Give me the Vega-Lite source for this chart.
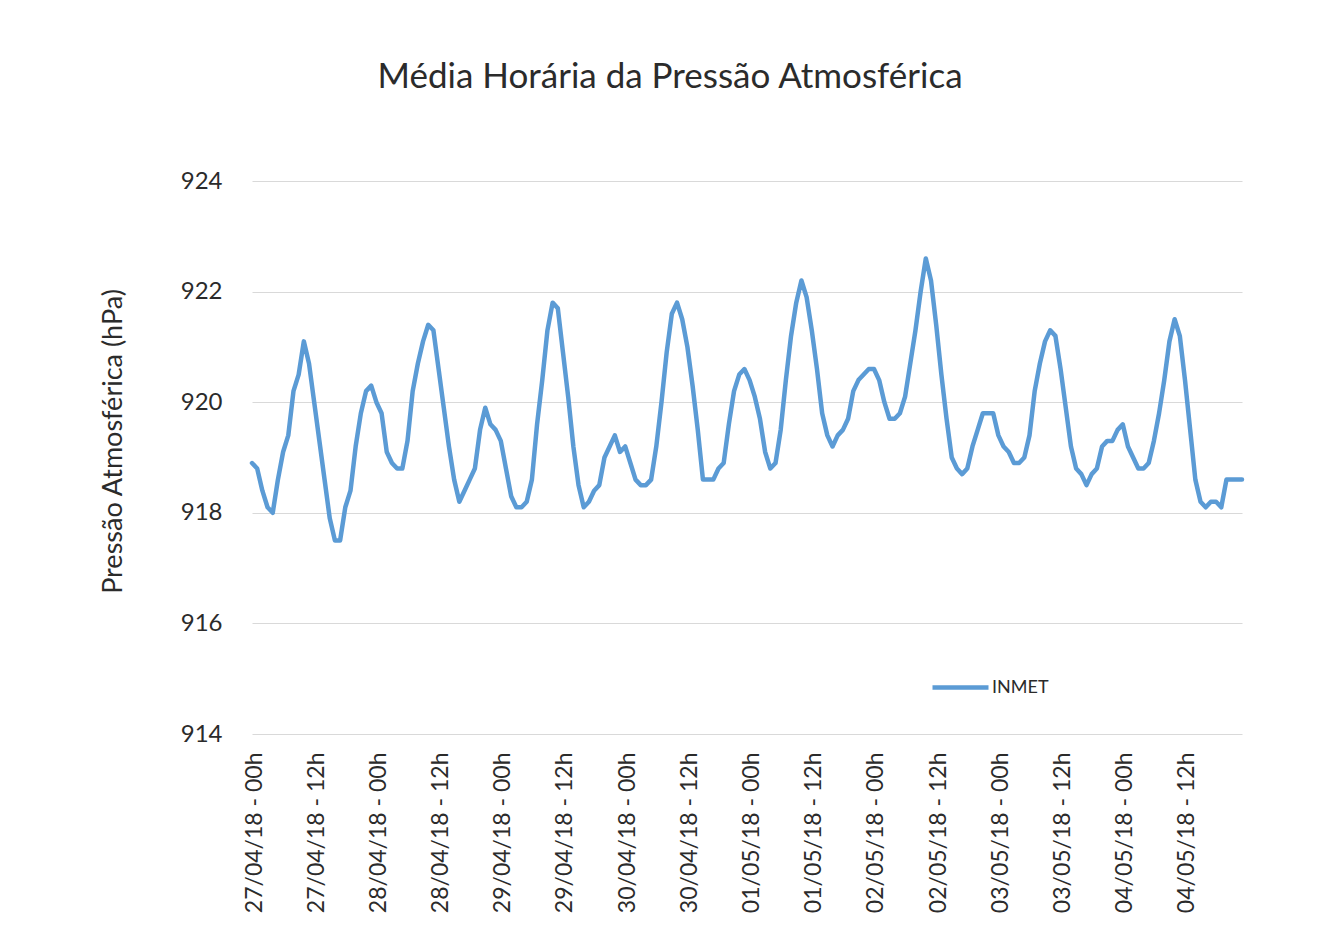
{
  "$schema": "https://vega.github.io/schema/vega-lite/v6.json",
  "width": 990,
  "height": 553,
  "autosize": {"type": "none"},
  "padding": {"left": 252, "top": 181, "right": 94, "bottom": 212},
  "background": "white",
  "title": {
    "text": "Média Horária da Pressão Atmosférica",
    "font": "Lato",
    "fontSize": 35,
    "fontWeight": "normal",
    "color": "#2b2b2b",
    "offset": 74,
    "anchor": "middle",
    "dx": -77
  },
  "data": {
    "format": {"parse": {"t": "date:'%Y-%m-%d %H:%M'"}},
    "values": [
      {"t": "2018-04-27 00:00", "p": 918.9}, {"t": "2018-04-27 01:00", "p": 918.8}, {"t": "2018-04-27 02:00", "p": 918.4}, {"t": "2018-04-27 03:00", "p": 918.1},
      {"t": "2018-04-27 04:00", "p": 918.0}, {"t": "2018-04-27 05:00", "p": 918.6}, {"t": "2018-04-27 06:00", "p": 919.1}, {"t": "2018-04-27 07:00", "p": 919.4},
      {"t": "2018-04-27 08:00", "p": 920.2}, {"t": "2018-04-27 09:00", "p": 920.5}, {"t": "2018-04-27 10:00", "p": 921.1}, {"t": "2018-04-27 11:00", "p": 920.7},
      {"t": "2018-04-27 12:00", "p": 920.0}, {"t": "2018-04-27 13:00", "p": 919.3}, {"t": "2018-04-27 14:00", "p": 918.6}, {"t": "2018-04-27 15:00", "p": 917.9},
      {"t": "2018-04-27 16:00", "p": 917.5}, {"t": "2018-04-27 17:00", "p": 917.5}, {"t": "2018-04-27 18:00", "p": 918.1}, {"t": "2018-04-27 19:00", "p": 918.4},
      {"t": "2018-04-27 20:00", "p": 919.2}, {"t": "2018-04-27 21:00", "p": 919.8}, {"t": "2018-04-27 22:00", "p": 920.2}, {"t": "2018-04-27 23:00", "p": 920.3},
      {"t": "2018-04-28 00:00", "p": 920.0}, {"t": "2018-04-28 01:00", "p": 919.8}, {"t": "2018-04-28 02:00", "p": 919.1}, {"t": "2018-04-28 03:00", "p": 918.9},
      {"t": "2018-04-28 04:00", "p": 918.8}, {"t": "2018-04-28 05:00", "p": 918.8}, {"t": "2018-04-28 06:00", "p": 919.3}, {"t": "2018-04-28 07:00", "p": 920.2},
      {"t": "2018-04-28 08:00", "p": 920.7}, {"t": "2018-04-28 09:00", "p": 921.1}, {"t": "2018-04-28 10:00", "p": 921.4}, {"t": "2018-04-28 11:00", "p": 921.3},
      {"t": "2018-04-28 12:00", "p": 920.6}, {"t": "2018-04-28 13:00", "p": 919.9}, {"t": "2018-04-28 14:00", "p": 919.2}, {"t": "2018-04-28 15:00", "p": 918.6},
      {"t": "2018-04-28 16:00", "p": 918.2}, {"t": "2018-04-28 17:00", "p": 918.4}, {"t": "2018-04-28 18:00", "p": 918.6}, {"t": "2018-04-28 19:00", "p": 918.8},
      {"t": "2018-04-28 20:00", "p": 919.5}, {"t": "2018-04-28 21:00", "p": 919.9}, {"t": "2018-04-28 22:00", "p": 919.6}, {"t": "2018-04-28 23:00", "p": 919.5},
      {"t": "2018-04-29 00:00", "p": 919.3}, {"t": "2018-04-29 01:00", "p": 918.8}, {"t": "2018-04-29 02:00", "p": 918.3}, {"t": "2018-04-29 03:00", "p": 918.1},
      {"t": "2018-04-29 04:00", "p": 918.1}, {"t": "2018-04-29 05:00", "p": 918.2}, {"t": "2018-04-29 06:00", "p": 918.6}, {"t": "2018-04-29 07:00", "p": 919.6},
      {"t": "2018-04-29 08:00", "p": 920.4}, {"t": "2018-04-29 09:00", "p": 921.3}, {"t": "2018-04-29 10:00", "p": 921.8}, {"t": "2018-04-29 11:00", "p": 921.7},
      {"t": "2018-04-29 12:00", "p": 920.9}, {"t": "2018-04-29 13:00", "p": 920.1}, {"t": "2018-04-29 14:00", "p": 919.2}, {"t": "2018-04-29 15:00", "p": 918.5},
      {"t": "2018-04-29 16:00", "p": 918.1}, {"t": "2018-04-29 17:00", "p": 918.2}, {"t": "2018-04-29 18:00", "p": 918.4}, {"t": "2018-04-29 19:00", "p": 918.5},
      {"t": "2018-04-29 20:00", "p": 919.0}, {"t": "2018-04-29 21:00", "p": 919.2}, {"t": "2018-04-29 22:00", "p": 919.4}, {"t": "2018-04-29 23:00", "p": 919.1},
      {"t": "2018-04-30 00:00", "p": 919.2}, {"t": "2018-04-30 01:00", "p": 918.9}, {"t": "2018-04-30 02:00", "p": 918.6}, {"t": "2018-04-30 03:00", "p": 918.5},
      {"t": "2018-04-30 04:00", "p": 918.5}, {"t": "2018-04-30 05:00", "p": 918.6}, {"t": "2018-04-30 06:00", "p": 919.2}, {"t": "2018-04-30 07:00", "p": 920.0},
      {"t": "2018-04-30 08:00", "p": 920.9}, {"t": "2018-04-30 09:00", "p": 921.6}, {"t": "2018-04-30 10:00", "p": 921.8}, {"t": "2018-04-30 11:00", "p": 921.5},
      {"t": "2018-04-30 12:00", "p": 921.0}, {"t": "2018-04-30 13:00", "p": 920.3}, {"t": "2018-04-30 14:00", "p": 919.5}, {"t": "2018-04-30 15:00", "p": 918.6},
      {"t": "2018-04-30 16:00", "p": 918.6}, {"t": "2018-04-30 17:00", "p": 918.6}, {"t": "2018-04-30 18:00", "p": 918.8}, {"t": "2018-04-30 19:00", "p": 918.9},
      {"t": "2018-04-30 20:00", "p": 919.6}, {"t": "2018-04-30 21:00", "p": 920.2}, {"t": "2018-04-30 22:00", "p": 920.5}, {"t": "2018-04-30 23:00", "p": 920.6},
      {"t": "2018-05-01 00:00", "p": 920.4}, {"t": "2018-05-01 01:00", "p": 920.1}, {"t": "2018-05-01 02:00", "p": 919.7}, {"t": "2018-05-01 03:00", "p": 919.1},
      {"t": "2018-05-01 04:00", "p": 918.8}, {"t": "2018-05-01 05:00", "p": 918.9}, {"t": "2018-05-01 06:00", "p": 919.5}, {"t": "2018-05-01 07:00", "p": 920.4},
      {"t": "2018-05-01 08:00", "p": 921.2}, {"t": "2018-05-01 09:00", "p": 921.8}, {"t": "2018-05-01 10:00", "p": 922.2}, {"t": "2018-05-01 11:00", "p": 921.9},
      {"t": "2018-05-01 12:00", "p": 921.3}, {"t": "2018-05-01 13:00", "p": 920.6}, {"t": "2018-05-01 14:00", "p": 919.8}, {"t": "2018-05-01 15:00", "p": 919.4},
      {"t": "2018-05-01 16:00", "p": 919.2}, {"t": "2018-05-01 17:00", "p": 919.4}, {"t": "2018-05-01 18:00", "p": 919.5}, {"t": "2018-05-01 19:00", "p": 919.7},
      {"t": "2018-05-01 20:00", "p": 920.2}, {"t": "2018-05-01 21:00", "p": 920.4}, {"t": "2018-05-01 22:00", "p": 920.5}, {"t": "2018-05-01 23:00", "p": 920.6},
      {"t": "2018-05-02 00:00", "p": 920.6}, {"t": "2018-05-02 01:00", "p": 920.4}, {"t": "2018-05-02 02:00", "p": 920.0}, {"t": "2018-05-02 03:00", "p": 919.7},
      {"t": "2018-05-02 04:00", "p": 919.7}, {"t": "2018-05-02 05:00", "p": 919.8}, {"t": "2018-05-02 06:00", "p": 920.1}, {"t": "2018-05-02 07:00", "p": 920.7},
      {"t": "2018-05-02 08:00", "p": 921.3}, {"t": "2018-05-02 09:00", "p": 922.0}, {"t": "2018-05-02 10:00", "p": 922.6}, {"t": "2018-05-02 11:00", "p": 922.2},
      {"t": "2018-05-02 12:00", "p": 921.4}, {"t": "2018-05-02 13:00", "p": 920.5}, {"t": "2018-05-02 14:00", "p": 919.7}, {"t": "2018-05-02 15:00", "p": 919.0},
      {"t": "2018-05-02 16:00", "p": 918.8}, {"t": "2018-05-02 17:00", "p": 918.7}, {"t": "2018-05-02 18:00", "p": 918.8}, {"t": "2018-05-02 19:00", "p": 919.2},
      {"t": "2018-05-02 20:00", "p": 919.5}, {"t": "2018-05-02 21:00", "p": 919.8}, {"t": "2018-05-02 22:00", "p": 919.8}, {"t": "2018-05-02 23:00", "p": 919.8},
      {"t": "2018-05-03 00:00", "p": 919.4}, {"t": "2018-05-03 01:00", "p": 919.2}, {"t": "2018-05-03 02:00", "p": 919.1}, {"t": "2018-05-03 03:00", "p": 918.9},
      {"t": "2018-05-03 04:00", "p": 918.9}, {"t": "2018-05-03 05:00", "p": 919.0}, {"t": "2018-05-03 06:00", "p": 919.4}, {"t": "2018-05-03 07:00", "p": 920.2},
      {"t": "2018-05-03 08:00", "p": 920.7}, {"t": "2018-05-03 09:00", "p": 921.1}, {"t": "2018-05-03 10:00", "p": 921.3}, {"t": "2018-05-03 11:00", "p": 921.2},
      {"t": "2018-05-03 12:00", "p": 920.6}, {"t": "2018-05-03 13:00", "p": 919.9}, {"t": "2018-05-03 14:00", "p": 919.2}, {"t": "2018-05-03 15:00", "p": 918.8},
      {"t": "2018-05-03 16:00", "p": 918.7}, {"t": "2018-05-03 17:00", "p": 918.5}, {"t": "2018-05-03 18:00", "p": 918.7}, {"t": "2018-05-03 19:00", "p": 918.8},
      {"t": "2018-05-03 20:00", "p": 919.2}, {"t": "2018-05-03 21:00", "p": 919.3}, {"t": "2018-05-03 22:00", "p": 919.3}, {"t": "2018-05-03 23:00", "p": 919.5},
      {"t": "2018-05-04 00:00", "p": 919.6}, {"t": "2018-05-04 01:00", "p": 919.2}, {"t": "2018-05-04 02:00", "p": 919.0}, {"t": "2018-05-04 03:00", "p": 918.8},
      {"t": "2018-05-04 04:00", "p": 918.8}, {"t": "2018-05-04 05:00", "p": 918.9}, {"t": "2018-05-04 06:00", "p": 919.3}, {"t": "2018-05-04 07:00", "p": 919.8},
      {"t": "2018-05-04 08:00", "p": 920.4}, {"t": "2018-05-04 09:00", "p": 921.1}, {"t": "2018-05-04 10:00", "p": 921.5}, {"t": "2018-05-04 11:00", "p": 921.2},
      {"t": "2018-05-04 12:00", "p": 920.4}, {"t": "2018-05-04 13:00", "p": 919.5}, {"t": "2018-05-04 14:00", "p": 918.6}, {"t": "2018-05-04 15:00", "p": 918.2},
      {"t": "2018-05-04 16:00", "p": 918.1}, {"t": "2018-05-04 17:00", "p": 918.2}, {"t": "2018-05-04 18:00", "p": 918.2}, {"t": "2018-05-04 19:00", "p": 918.1},
      {"t": "2018-05-04 20:00", "p": 918.6}, {"t": "2018-05-04 21:00", "p": 918.6}, {"t": "2018-05-04 22:00", "p": 918.6}, {"t": "2018-05-04 23:00", "p": 918.6}
    ]
  },
  "mark": {"type": "line", "strokeWidth": 4.5, "strokeJoin": "round", "strokeCap": "round", "color": "#5B9BD5"},
  "encoding": {
    "x": {
      "field": "t",
      "type": "temporal",
      "scale": {"nice": false},
      "axis": {
        "title": null,
        "format": "%d/%m/%y - %Hh",
        "values": [
          {"year": 2018, "month": 4, "date": 27, "hours": 0}, {"year": 2018, "month": 4, "date": 27, "hours": 12},
          {"year": 2018, "month": 4, "date": 28, "hours": 0}, {"year": 2018, "month": 4, "date": 28, "hours": 12},
          {"year": 2018, "month": 4, "date": 29, "hours": 0}, {"year": 2018, "month": 4, "date": 29, "hours": 12},
          {"year": 2018, "month": 4, "date": 30, "hours": 0}, {"year": 2018, "month": 4, "date": 30, "hours": 12},
          {"year": 2018, "month": 5, "date": 1, "hours": 0}, {"year": 2018, "month": 5, "date": 1, "hours": 12},
          {"year": 2018, "month": 5, "date": 2, "hours": 0}, {"year": 2018, "month": 5, "date": 2, "hours": 12},
          {"year": 2018, "month": 5, "date": 3, "hours": 0}, {"year": 2018, "month": 5, "date": 3, "hours": 12},
          {"year": 2018, "month": 5, "date": 4, "hours": 0}, {"year": 2018, "month": 5, "date": 4, "hours": 12}
        ],
        "labelAngle": -90,
        "grid": false,
        "ticks": false,
        "tickSize": 0,
        "domain": false,
        "labelPadding": 18,
        "labelOffset": 2,
        "labelFont": "Lato",
        "labelFontSize": 23,
        "labelColor": "#2b2b2b",
        "labelOverlap": false,
        "labelFlush": false
      }
    },
    "y": {
      "field": "p",
      "type": "quantitative",
      "scale": {"domain": [914, 924], "nice": false, "zero": false},
      "axis": {
        "title": "Pressão Atmosférica (hPa)",
        "values": [914, 916, 918, 920, 922, 924],
        "grid": true,
        "gridColor": "#D9D9D9",
        "gridWidth": 1,
        "domain": false,
        "ticks": false,
        "tickSize": 0,
        "labelPadding": 30,
        "labelFont": "Lato",
        "labelFontSize": 24,
        "labelColor": "#2b2b2b",
        "titleFont": "Lato",
        "titleFontSize": 27,
        "titleFontWeight": "normal",
        "titleColor": "#2b2b2b",
        "titlePadding": 53,
        "titleY": 260
      }
    },
    "color": {
      "datum": "INMET",
      "type": "nominal",
      "scale": {"range": ["#5B9BD5"]},
      "legend": {
        "title": null,
        "orient": "none",
        "legendX": 678,
        "legendY": 476,
        "symbolType": "stroke",
        "symbolSize": 3136,
        "symbolStrokeWidth": 4.5,
        "labelFont": "Lato",
        "labelFontSize": 18,
        "labelColor": "#2b2b2b",
        "labelOffset": 1,
        "padding": 0
      }
    }
  },
  "config": {"view": {"stroke": null}}
}
